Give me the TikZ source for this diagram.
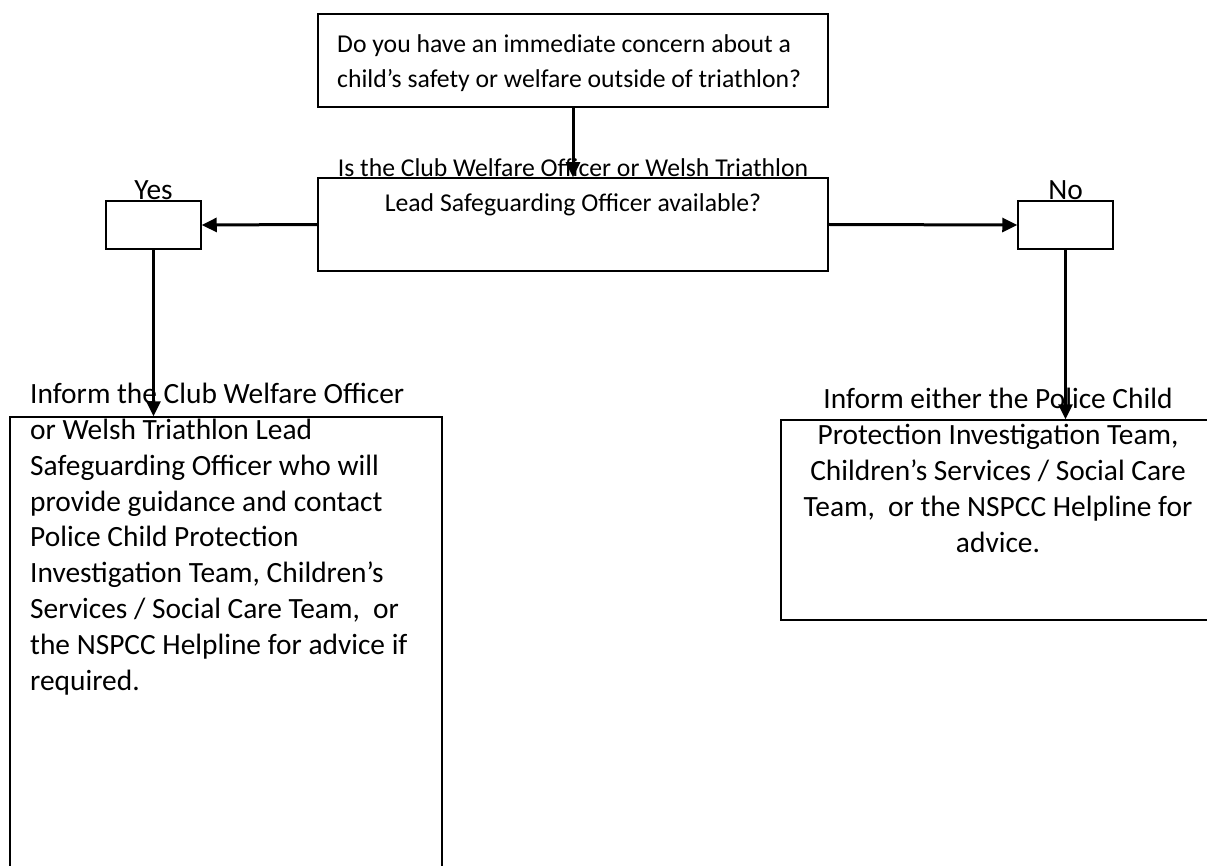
\documentclass[tikz,border=0pt]{standalone}
\usepackage{fontspec}
\setmainfont{Carlito}
\usetikzlibrary{arrows.meta}
\begin{document}
\begin{tikzpicture}[x=1pt,y=-1pt,
  box/.style={draw, line width=1.5pt, inner sep=0pt},
  conn/.style={line width=3pt, -{Triangle[length=15pt,width=14pt]}},
  txt/.style={font=\fontsize{25.7}{35.8}\selectfont, inner sep=0pt},
  bigtxt/.style={font=\fontsize{29.4}{35.8}\selectfont, inner sep=0pt},
]
\useasboundingbox (0,0) rectangle (1207,866);
\clip (0,0) rectangle (1207,866);
% text (base anchor = baseline of last line)
\node[txt, anchor=base west, align=left] (t1) at (337,88)
  {Do you have an immediate concern about a\\child’s safety or welfare outside of triathlon?};
\node[txt, anchor=base, align=center] (t2) at (573,212)
  {Is the Club Welfare Officer or Welsh Triathlon\\Lead Safeguarding Officer available?};
\node[bigtxt, anchor=base] (lyes) at (153.5,200) {Yes};
\node[bigtxt, anchor=base] (lno) at (1065.5,200) {No};
\node[bigtxt, anchor=base west, align=left] (t3) at (30,690)
  {Inform the Club Welfare Officer\\or Welsh Triathlon Lead\\Safeguarding Officer who will\\provide guidance and contact\\Police Child Protection\\Investigation Team, Children’s\\Services / Social Care Team,\ \ or\\the NSPCC Helpline for advice if\\required.};
\node[bigtxt, anchor=base, align=center] (t4) at (998,552)
  {Inform either the Police Child\\Protection Investigation Team,\\Children’s Services / Social Care\\Team,\ \ or the NSPCC Helpline for\\advice.};
% boxes
\node[box, minimum width=510pt, minimum height=93pt] (top) at (573,60.5) {};
\node[box, minimum width=510pt, minimum height=93pt] (mid) at (573,224.5) {};
\node[box, minimum width=95pt, minimum height=48pt] (yes) at (153.5,225) {};
\node[box, minimum width=95pt, minimum height=48pt] (no) at (1065.5,225) {};
\node[box, minimum width=432pt, minimum height=463pt] (left) at (226,648.5) {};
\node[box, minimum width=434pt, minimum height=200pt] (right) at (998,520) {};
% connectors
\draw[conn] (top.south) -- (mid.north);
\draw[conn] (mid.west) -- (yes.east);
\draw[conn] (mid.east) -- (no.west);
\draw[conn] (yes.south) -- (yes.south |- left.north);
\draw[conn] (no.south) -- (no.south |- right.north);
\end{tikzpicture}
\end{document}
